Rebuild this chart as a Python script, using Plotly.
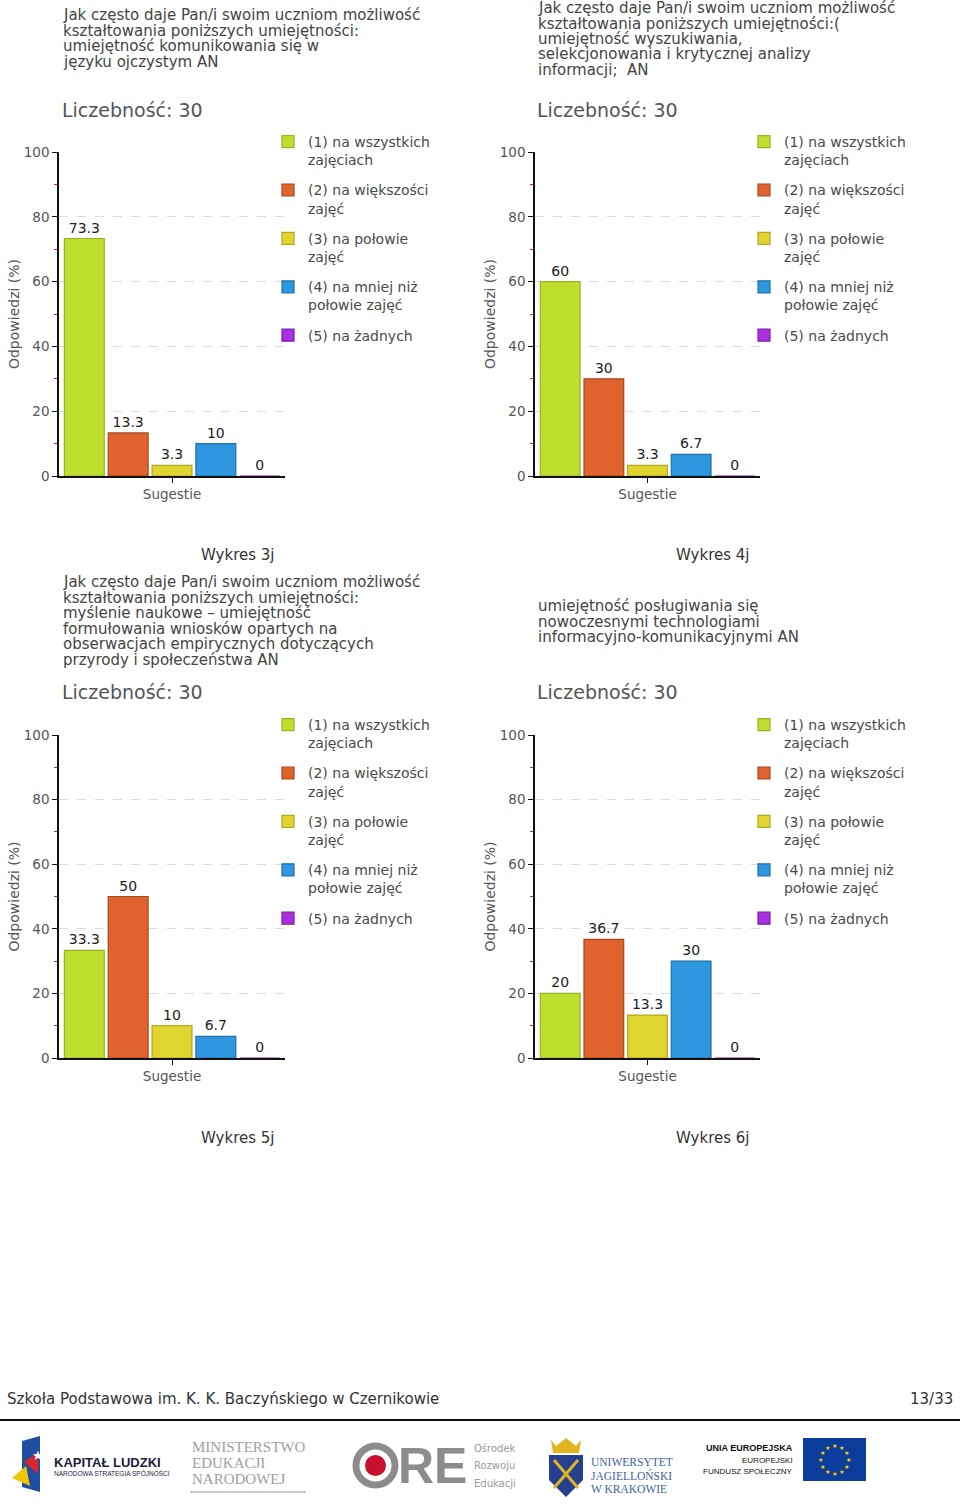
import math
import plotly.graph_objects as go

W, H = 960, 1510


def px(x):
    return x / W


def py(y):
    return 1 - y / H


# ---------------- data ----------------
categories = ["Sugestie"]
series_names = [
    "(1) na wszystkich<br>zajęciach",
    "(2) na większości<br>zajęć",
    "(3) na połowie<br>zajęć",
    "(4) na mniej niż<br>połowie zajęć",
    "(5) na żadnych",
]
values_1 = [73.3, 13.3, 3.3, 10, 0]
values_2 = [60, 30, 3.3, 6.7, 0]
values_3 = [33.3, 50, 10, 6.7, 0]
values_4 = [20, 36.7, 13.3, 30, 0]
y_ticks = [0, 20, 40, 60, 80, 100]
y_minor_ticks = [10, 30, 50, 70, 90]

title_1 = ["Jak często daje Pan/i swoim uczniom możliwość",
           "kształtowania poniższych umiejętności:",
           "umiejętność komunikowania się w",
           "języku ojczystym AN"]
title_2 = ["Jak często daje Pan/i swoim uczniom możliwość",
           "kształtowania poniższych umiejętności:(",
           "umiejętność wyszukiwania,",
           "selekcjonowania i krytycznej analizy",
           "informacji;  AN"]
title_3 = ["Jak często daje Pan/i swoim uczniom możliwość",
           "kształtowania poniższych umiejętności:",
           "myślenie naukowe – umiejętność",
           "formułowania wniosków opartych na",
           "obserwacjach empirycznych dotyczących",
           "przyrody i społeczeństwa AN"]
title_4 = ["umiejętność posługiwania się",
           "nowoczesnymi technologiami",
           "informacyjno-komunikacyjnymi AN"]
count_label = "Liczebność: 30"
captions = ["Wykres 3j", "Wykres 4j", "Wykres 5j", "Wykres 6j"]
y_title = "Odpowiedzi (%)"
footer_left = "Szkoła Podstawowa im. K. K. Baczyńskiego w Czernikowie"
footer_right = "13/33"

colors = ["#bfdf2f", "#e0632d", "#e0d42f", "#2f97e0", "#a92fe0"]
edge_colors = ["#98b321", "#a8481f", "#b3a823", "#1f70aa", "#7b1faa"]

FONT = "DejaVu Sans"

# panel geometry (pixels)
panels = [
    dict(vals=values_1, title=title_1, x0=59, x1=285, ytop=152, ybot=476,
         tx=61, ty=15, ly=110, capx=238, capy=555, lx=268, lgy=126),
    dict(vals=values_2, title=title_2, x0=535, x1=760, ytop=152, ybot=476,
         tx=536, ty=8, ly=110, capx=713, capy=555, lx=744, lgy=126),
    dict(vals=values_3, title=title_3, x0=59, x1=285, ytop=735, ybot=1058,
         tx=61, ty=582, ly=692, capx=238, capy=1138, lx=268, lgy=709),
    dict(vals=values_4, title=title_4, x0=535, x1=760, ytop=735, ybot=1058,
         tx=536, ty=606, ly=692, capx=713, capy=1138, lx=744, lgy=709),
]

fig = go.Figure()
annotations = []
shapes = []
layout_extra = {}

for i, p in enumerate(panels):
    k = "" if i == 0 else str(i + 1)
    leg = "legend" + k
    for j in range(5):
        fig.add_trace(go.Bar(
            x=categories, y=[p["vals"][j]], name=series_names[j],
            xaxis="x" + k, yaxis="y" + k, legend=leg,
            legendgroup=f"g{i}_{j}",
            marker=dict(color=colors[j], line=dict(color=edge_colors[j], width=1.2)),
            texttemplate="%{y}", textposition="outside",
            outsidetextfont=dict(family=FONT, size=14, color="#222"),
            cliponaxis=False, hoverinfo="skip",
        ))
    layout_extra["xaxis" + k] = dict(
        domain=[px(p["x0"]), px(p["x1"])], anchor="y" + k, automargin=False,
        range=[-0.5, 0.5], showline=True, linecolor="#111", linewidth=2,
        ticks="outside", ticklen=5, tickcolor="#111", showgrid=False,
        tickfont=dict(family=FONT, size=13.5, color="#555"), fixedrange=True,
    )
    layout_extra["yaxis" + k] = dict(
        domain=[py(p["ybot"]), py(p["ytop"])], anchor="x" + k, automargin=False,
        range=[0, 100], tickmode="array", tickvals=y_ticks,
        showline=True, linecolor="#111", linewidth=1.5,
        ticks="outside", ticklen=5, tickcolor="#111",
        showgrid=True, gridcolor="#dcdcdc", griddash="dash", gridwidth=1,
        zeroline=False,
        minor=dict(tickvals=y_minor_ticks, ticks="outside", ticklen=3,
                   tickcolor="#cc2a2a", showgrid=False),
        tickfont=dict(family=FONT, size=13.5, color="#555"),
        title=dict(text=y_title, font=dict(family=FONT, size=14, color="#555"),
                   standoff=1),
        fixedrange=True,
    )
    layout_extra[leg] = dict(
        x=px(p["lx"]), y=py(p["lgy"]), xanchor="left", yanchor="top",
        bgcolor="rgba(0,0,0,0)", valign="top", tracegroupgap=9,
        font=dict(family=FONT, size=14, color="#4a4a4a"),
    )
    # title lines
    for n, line in enumerate(p["title"]):
        annotations.append(dict(
            text=line, x=px(p["tx"]), y=py(p["ty"] + n * 15.5),
            xref="paper", yref="paper", xanchor="left", yanchor="middle",
            showarrow=False, font=dict(family=FONT, size=15, color="#444"),
        ))
    annotations.append(dict(
        text=count_label, x=px(p["tx"] - 1), y=py(p["ly"]),
        xref="paper", yref="paper", xanchor="left", yanchor="middle",
        showarrow=False, font=dict(family=FONT, size=19, color="#555"),
    ))
    annotations.append(dict(
        text=captions[i], x=px(p["capx"]), y=py(p["capy"]),
        xref="paper", yref="paper", xanchor="center", yanchor="middle",
        showarrow=False, font=dict(family=FONT, size=15, color="#333"),
    ))

# ---------------- footer ----------------
annotations.append(dict(text=footer_left, x=px(5), y=py(1399), xref="paper", yref="paper",
                        xanchor="left", yanchor="middle", showarrow=False,
                        font=dict(family=FONT, size=15, color="#333")))
annotations.append(dict(text=footer_right, x=px(955), y=py(1399), xref="paper", yref="paper",
                        xanchor="right", yanchor="middle", showarrow=False,
                        font=dict(family=FONT, size=15, color="#333")))
shapes.append(dict(type="line", xref="paper", yref="paper", x0=0, x1=1,
                   y0=py(1420), y1=py(1420), line=dict(color="#111", width=2)))


def ann(text, x, y, size, color, family=FONT, anchor="left", bold=False):
    t = f"<b>{text}</b>" if bold else text
    annotations.append(dict(text=t, x=px(x), y=py(y), xref="paper", yref="paper",
                            xanchor=anchor, yanchor="middle", showarrow=False,
                            font=dict(family=family, size=size, color=color)))


def path_shape(path, fill, line_color=None, lw=0):
    shapes.append(dict(type="path", xref="paper", yref="paper", path=path,
                       fillcolor=fill, line=dict(color=line_color or fill, width=lw)))


def P(pts):
    return "M " + " L ".join(f"{px(x)},{py(y)}" for x, y in pts) + " Z"


NARROW = "Liberation Sans Narrow, Liberation Sans"

# Kapitał Ludzki logo
path_shape(P([(22, 1441), (40, 1436), (40, 1492), (22, 1487)]), "#1f4ea3")
path_shape(P([(12, 1478), (26, 1466), (30, 1486)]), "#f2c500")
path_shape(P([(24, 1462), (38, 1452), (38, 1474)]), "#d9262b")
ann("★", 30, 1455, 13, "white")
ann("KAPITAŁ LUDZKI", 52, 1462, 13, "#1c1c3c", family=NARROW, bold=True)
ann("NARODOWA STRATEGIA SPÓJNOŚCI", 52, 1473, 6.5, "#1c1c3c", family=NARROW)

# MEN logo
for n, t in enumerate(["MINISTERSTWO", "EDUKACJI", "NARODOWEJ"]):
    ann(t, 190, 1447 + n * 16, 15, "#a0a0a0", family="Liberation Serif")
shapes.append(dict(type="line", xref="paper", yref="paper", x0=px(190), x1=px(306),
                   y0=py(1492), y1=py(1492), line=dict(color="#b8b8c8", width=1.5)))

# ORE logo
shapes.append(dict(type="circle", xref="paper", yref="paper",
                   x0=px(356), x1=px(395), y0=py(1485), y1=py(1446),
                   line=dict(color="#8c8c8c", width=7), fillcolor="rgba(0,0,0,0)"))
shapes.append(dict(type="circle", xref="paper", yref="paper",
                   x0=px(365), x1=px(386), y0=py(1476), y1=py(1455),
                   line=dict(color="#c8102e", width=0), fillcolor="#c8102e"))
ann("RE", 396, 1466, 50, "#8c8c8c", family=NARROW, bold=True)
for n, t in enumerate(["Ośrodek", "Rozwoju", "Edukacji"]):
    ann(t, 472, 1448 + n * 17.5, 10, "#9a9a9a")

# UJ logo
path_shape(P([(551, 1440), (556, 1446), (566, 1438), (576, 1446), (581, 1440), (579, 1453), (553, 1453)]), "#e0b520")
path_shape(P([(549, 1455), (583, 1455), (583, 1480), (566, 1497), (549, 1480)]), "#24408e")
shapes.append(dict(type="line", xref="paper", yref="paper", x0=px(554), x1=px(578),
                   y0=py(1460), y1=py(1488), line=dict(color="#e0b520", width=3)))
shapes.append(dict(type="line", xref="paper", yref="paper", x0=px(578), x1=px(554),
                   y0=py(1460), y1=py(1488), line=dict(color="#e0b520", width=3)))
for n, t in enumerate(["UNIWERSYTET", "JAGIELLOŃSKI", "W KRAKOWIE"]):
    ann(t, 589, 1462 + n * 13.5, 11.5, "#3f62a0", family="Liberation Serif")

# EU logo
ann("UNIA EUROPEJSKA", 795, 1448, 9, "#111", family=NARROW, anchor="right", bold=True)
ann("EUROPEJSKI", 795, 1460, 8, "#111", family=NARROW, anchor="right")
ann("FUNDUSZ SPOŁECZNY", 795, 1471, 8, "#111", family=NARROW, anchor="right")
shapes.append(dict(type="rect", xref="paper", yref="paper", x0=px(803), x1=px(866),
                   y0=py(1481), y1=py(1438), line=dict(width=0), fillcolor="#0b3d9c"))
for s in range(12):
    a = 2 * math.pi * s / 12
    ann("★", 834.5 + 14 * math.cos(a), 1459.5 + 14 * math.sin(a), 6, "#ffcc00", anchor="center")

fig.update_layout(
    width=W, height=H, margin=dict(l=0, r=0, t=0, b=0, pad=0, autoexpand=False),
    paper_bgcolor="white", plot_bgcolor="white",
    barmode="group", bargap=0.03, bargroupgap=0.09,
    font=dict(family=FONT, color="#444"),
    annotations=annotations, shapes=shapes,
    **layout_extra,
)

fig.write_html("out.html", config={"displayModeBar": False},
               post_script="document.body.style.margin='0';document.body.style.padding='0';")
